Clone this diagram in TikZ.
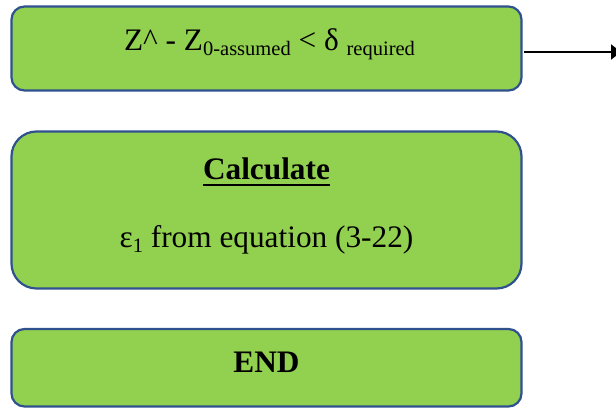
\documentclass[tikz,border=0pt]{standalone}
\usepackage{fontspec}
\setmainfont{Liberation Serif}
\usepackage{xcolor}
\usetikzlibrary{arrows.meta, positioning}

\definecolor{boxgreen}{HTML}{92D050}
\definecolor{boxblue}{HTML}{2F528F}

% subscript as Word sets it, and a thick underline
\newcommand{\lowtext}[1]{\raisebox{-4.5pt}{\fontsize{20.5}{24}\selectfont #1}}
\newcommand{\ulword}[1]{\setbox0\hbox{#1}\rlap{\rule[-6.2pt]{\wd0}{2.5pt}}\box0}

\begin{document}
\begin{tikzpicture}[
  x=1pt, y=1pt,
  box/.style={draw=boxblue, fill=boxgreen, line width=2.2pt, minimum width=510pt, inner sep=0pt, outer sep=0pt},
  txt/.style={anchor=base, inner sep=0pt, font=\fontsize{31.3}{37}\selectfont},
  arr/.style={-{Triangle[length=10pt, width=15pt]}, line width=2pt}
]
\useasboundingbox (0,0) rectangle (616,409);

\node[box, minimum height=84pt, rounded corners=13pt] (check) at (266.5,360.5) {};
\node[box, minimum height=157pt, rounded corners=25pt, below=41pt of check] (calc) {};
\node[box, minimum height=77.5pt, rounded corners=13pt, below=40.5pt of calc] (stop) {};

\node[txt] (checktxt) at ([xshift=3pt, yshift=-2.5pt]check.center) {Z\^{} - Z\lowtext{0-assumed} < δ \lowtext{required}};
\node[txt] (calchead) at ([yshift=30pt]calc.center) {\bfseries\ulword{Calculate}};
\node[txt] (calctxt) at ([yshift=-38pt]calc.center) {ε\lowtext{1} from equation (3-22)};
\node[txt] (stoptxt) at ([yshift=-5pt]stop.center) {\bfseries END};

\coordinate (out) at (621,357);
\draw[arr, shorten <=2pt] (check.east |- out) -- (out);
\end{tikzpicture}
\end{document}
